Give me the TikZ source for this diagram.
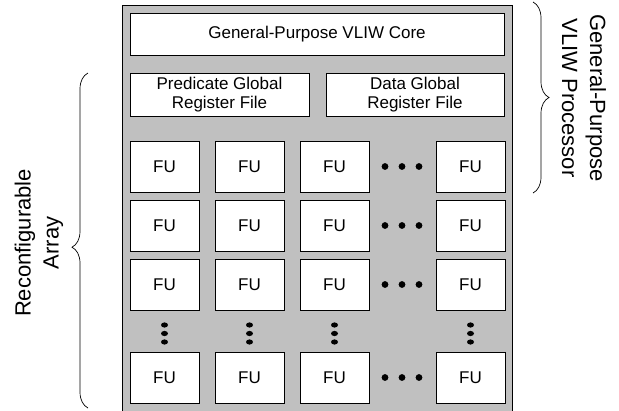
\documentclass[tikz,border=0pt]{standalone}
\usepackage{fontspec}
\setmainfont{Liberation Sans}
\usetikzlibrary{decorations.pathreplacing}
\definecolor{chipgray}{RGB}{192,192,192}
\begin{document}
\begin{tikzpicture}[x=1pt,y=-1pt,
    unitbox/.style={draw=black,line width=0.8pt,fill=white,inner sep=0pt,align=center,
        font=\fontsize{17}{19.5}\selectfont},
    fubox/.style={unitbox,minimum width=69pt,minimum height=51pt},
    sidebrace/.style={decorate,decoration={brace,amplitude=16pt},line width=0.7pt},
    sidelabel/.style={align=center,font=\fontsize{22}{28}\selectfont}]
            \useasboundingbox (0,0) rectangle (619,410);
            % Draw the chip
            \draw[line width=0.8pt,fill=chipgray] (122,5) rectangle (512,411);
            % Draw the core and the two register files
            \node[unitbox,minimum width=374pt,minimum height=42pt] (core) at (317,34) {General-Purpose VLIW Core};
            \node[unitbox,minimum width=179pt,minimum height=43pt] (predreg) at (219.5,94.5) {Predicate Global\\Register File};
            \node[unitbox,minimum width=178pt,minimum height=43pt] (datareg) at (415,94.5) {Data Global\\Register File};

            % Draw the FU rows
            \node[fubox] (fu11) at (164.5,166.5) {FU};
            \node[fubox] (fu12) at (249.5,166.5) {FU};
            \node[fubox] (fu13) at (334.5,166.5) {FU};
            \node[fubox] (fu14) at (470.5,166.5) {FU};

            \node[fubox] (fu21) at (164.5,225.5) {FU};
            \node[fubox] (fu22) at (249.5,225.5) {FU};
            \node[fubox] (fu23) at (334.5,225.5) {FU};
            \node[fubox] (fu24) at (470.5,225.5) {FU};

            \node[fubox] (fu31) at (164.5,284.5) {FU};
            \node[fubox] (fu32) at (249.5,284.5) {FU};
            \node[fubox] (fu33) at (334.5,284.5) {FU};
            \node[fubox] (fu34) at (470.5,284.5) {FU};

            \node[fubox] (fu41) at (164.5,377.5) {FU};
            \node[fubox] (fu42) at (249.5,377.5) {FU};
            \node[fubox] (fu43) at (334.5,377.5) {FU};
            \node[fubox] (fu44) at (470.5,377.5) {FU};

            % Draw the dots between the columns
            \fill (385,166.5) circle (3.4) (402,166.5) circle (3.4) (419,166.5) circle (3.4);
            \fill (385,225.5) circle (3.4) (402,225.5) circle (3.4) (419,225.5) circle (3.4);
            \fill (385,284.5) circle (3.4) (402,284.5) circle (3.4) (419,284.5) circle (3.4);
            \fill (385,377.5) circle (3.4) (402,377.5) circle (3.4) (419,377.5) circle (3.4);

            % Draw the dots between the rows
            \fill (164.5,325) ellipse (3.5 and 2.6) (164.5,333.5) ellipse (3.5 and 2.6) (164.5,342) ellipse (3.5 and 2.6);
            \fill (249.5,325) ellipse (3.5 and 2.6) (249.5,333.5) ellipse (3.5 and 2.6) (249.5,342) ellipse (3.5 and 2.6);
            \fill (334.5,325) ellipse (3.5 and 2.6) (334.5,333.5) ellipse (3.5 and 2.6) (334.5,342) ellipse (3.5 and 2.6);
            \fill (470.5,325) ellipse (3.5 and 2.6) (470.5,333.5) ellipse (3.5 and 2.6) (470.5,342) ellipse (3.5 and 2.6);

            % Draw the braces and their labels
            \draw[sidebrace] (533,2) -- (533,193);
            \node[sidelabel,rotate=-90] (proclabel) at (584,98) {General-Purpose\\VLIW Processor};

            \draw[sidebrace,decoration={aspect=0.48}] (88,408) -- (88,73);
            \node[sidelabel,rotate=90] (arraylabel) at (39,243) {Reconfigurable\\Array};

        \end{tikzpicture}
\end{document}
